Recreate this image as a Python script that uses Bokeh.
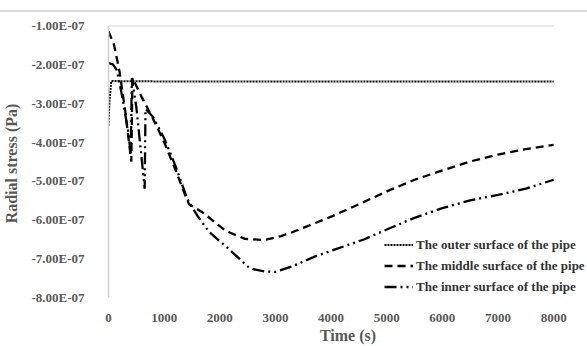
from bokeh.plotting import figure
from bokeh.models import FixedTicker, Range1d, Legend, LegendItem
from bokeh.embed import file_html
from bokeh.resources import INLINE
import numpy as np

# ---- data (values in Pa) ----
t_outer = [0, 20, 50, 1000, 2000, 4000, 6000, 8000]
outer = np.array([-3.58, -2.9, -2.43, -2.44, -2.44, -2.44, -2.44, -2.44]) * 1e-7

t_middle = [0, 100, 200, 300, 410, 430, 600, 800, 1000, 1200, 1400, 1450, 1700, 2100,
            2450, 2800, 3100, 3300, 3600, 4000, 4500, 5000, 5500, 6000, 6500, 7000, 7500, 8000]
middle = np.array([-1.15, -1.5, -2.2, -3.2, -4.5, -2.35, -2.85, -3.4, -4.0, -4.7, -5.45, -5.6,
                   -5.82, -6.28, -6.49, -6.52, -6.42, -6.32, -6.15, -5.92, -5.6, -5.27, -4.97,
                   -4.73, -4.5, -4.32, -4.18, -4.07]) * 1e-7

t_inner = [0, 80, 150, 250, 350, 400, 420, 500, 580, 650, 665, 800, 1000, 1200, 1400, 1450,
           1600, 1800, 2000, 2200, 2350, 2500, 2600, 2800, 3000, 3300, 3700, 4100, 4600, 5000,
           5500, 6000, 6500, 7000, 7500, 8000]
inner = np.array([-1.97, -2.0, -2.15, -2.85, -3.7, -4.3, -2.35, -3.1, -4.2, -5.2, -3.15, -3.35,
                  -3.9, -4.6, -5.4, -5.56, -5.9, -6.3, -6.55, -6.8, -7.0, -7.2, -7.27, -7.33,
                  -7.34, -7.2, -6.95, -6.75, -6.5, -6.25, -5.95, -5.7, -5.5, -5.36, -5.2,
                  -4.97]) * 1e-7

series_names = ["The outer surface of the pipe",
                "The middle surface of the pipe",
                "The inner surface of the pipe"]

x_ticks = [0, 1000, 2000, 3000, 4000, 5000, 6000, 7000, 8000]
y_ticks = [-1e-7, -2e-7, -3e-7, -4e-7, -5e-7, -6e-7, -7e-7, -8e-7]
y_tick_labels = ["-1.00E-07", "-2.00E-07", "-3.00E-07", "-4.00E-07",
                 "-5.00E-07", "-6.00E-07", "-7.00E-07", "-8.00E-07"]

FONT = "Liberation Serif"
GRAY = "#595959"

# frame runs past the last tick so the legend (clipped to the frame) fits
x_end = x_ticks[-1] * 481.0 / 447.0

p = figure(width=587, height=346, output_backend="svg", toolbar_location=None,
           x_range=Range1d(0, x_end), y_range=Range1d(y_ticks[-1], y_ticks[0]),
           min_border_left=106, min_border_right=0, min_border_top=25, min_border_bottom=47)
p.outline_line_color = None
p.background_fill_color = "white"
p.border_fill_alpha = 0
p.styles = {"background": "linear-gradient(to bottom, white 10px, #dcdcdc 10px, "
                          "#dcdcdc 12px, white 12px)"}

r1 = p.line(t_outer, outer, line_color="black", line_width=2, line_dash="2 1")
r2 = p.line(t_middle, middle, line_color="black", line_width=2.3, line_dash="8 5")
r3 = p.line(t_inner, inner, line_color="black", line_width=2.3, line_dash="12 4 2 4 2 4")

# top border of the plot area (spans the tick range only)
p.segment(x0=x_ticks[0], x1=x_ticks[-1], y0=y_ticks[0], y1=y_ticks[0],
          line_color="#d9d9d9", line_width=2)

# axes
p.xaxis.ticker = FixedTicker(ticks=x_ticks)
p.yaxis.ticker = FixedTicker(ticks=y_ticks)
p.yaxis.major_label_overrides = {v: s for v, s in zip(y_ticks, y_tick_labels)}
for ax in (p.xaxis[0], p.yaxis[0]):
    ax.major_tick_line_color = None
    ax.minor_tick_line_color = None
    ax.major_label_text_font = FONT
    ax.major_label_text_font_style = "bold"
    ax.major_label_text_font_size = "13px"
    ax.major_label_text_color = GRAY
    ax.axis_label_text_font = FONT
    ax.axis_label_text_font_style = "bold"
    ax.axis_label_text_font_size = "16px"
    ax.axis_label_text_color = GRAY
p.xaxis.axis_line_color = None
p.yaxis.axis_line_color = "#d0d0d0"
p.yaxis.axis_line_width = 1.5
p.xaxis.major_label_standoff = 10
p.yaxis.major_label_standoff = 18
p.xaxis.axis_label = "Time (s)"
p.yaxis.axis_label = "Radial stress  (Pa)"
p.xaxis.axis_label_standoff = 2
p.yaxis.axis_label_standoff = 8

p.xgrid.grid_line_color = None
p.ygrid.grid_line_color = None

legend = Legend(items=[LegendItem(label=series_names[0], renderers=[r1]),
                       LegendItem(label=series_names[1], renderers=[r2]),
                       LegendItem(label=series_names[2], renderers=[r3])],
                location=(276, 0))
legend.border_line_color = None
legend.background_fill_alpha = 0
legend.padding = 0
legend.margin = 0
legend.spacing = 0
legend.glyph_width = 29
legend.glyph_height = 21
legend.label_height = 21
legend.label_standoff = 3
legend.label_text_font = FONT
legend.label_text_font_style = "bold"
legend.label_text_font_size = "13px"
legend.label_text_color = "#333333"
p.add_layout(legend, "center")

open("out.html", "w").write(file_html(p, INLINE))
